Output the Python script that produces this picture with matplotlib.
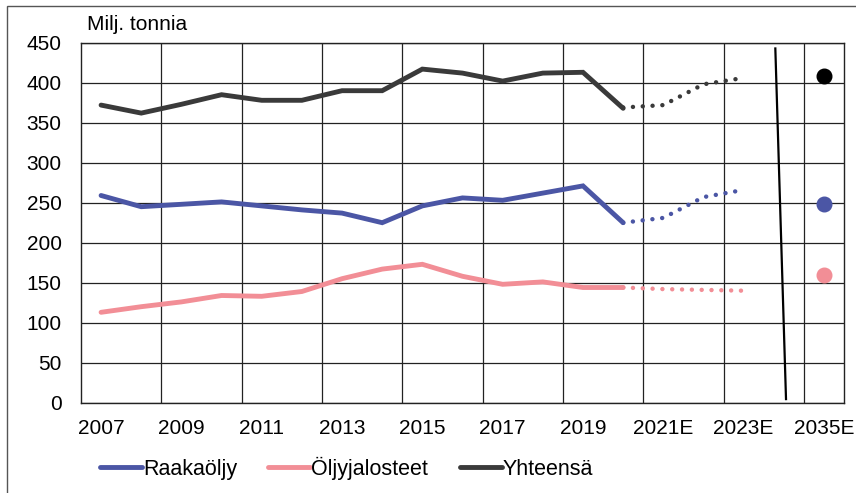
import matplotlib
matplotlib.use("Agg")
import matplotlib.pyplot as plt
from matplotlib.patches import Rectangle
import numpy as np

plt.rcParams["font.family"] = ["Liberation Sans", "DejaVu Sans"]

# categories on the x axis (one slot left empty for the axis break)
categories = [str(y) for y in range(2007, 2021)] + ["2021E", "2022E", "2023E", "", "2035E"]
tick_every = 2

# historical values 2007-2020, million tonnes
raaka_hist = [259, 245, 248, 251, 246, 241, 237, 225, 246, 256, 253, 262, 271, 225]
oljy_hist = [113, 120, 126, 134, 133, 139, 155, 167, 173, 158, 148, 151, 144, 144]
yht_hist = [372, 362, 373, 385, 378, 378, 390, 390, 417, 412, 402, 412, 413, 368]

# forecast 2020-2023E
raaka_fc = [225, 231, 257, 266]
oljy_fc = [144, 142, 141, 140]
yht_fc = [369, 372, 398, 406]

# long-term estimate 2035E
raaka_2035 = 248
oljy_2035 = 160
yht_2035 = 408

c_raaka = "#4b56a5"
c_oljy = "#f28e96"
c_yht = "#3a3a3a"

fig = plt.figure(figsize=(8.56, 4.93), dpi=100)
ax = fig.add_axes([81 / 856, 1 - 402.7 / 493, 763 / 856, 360 / 493])

x_hist = np.arange(len(raaka_hist))
x_fc = np.arange(len(raaka_hist) - 1, len(raaka_hist) - 1 + len(raaka_fc))
x_2035 = categories.index("2035E")

for vals, col, lab in [(raaka_hist, c_raaka, "Raakaöljy"),
                       (oljy_hist, c_oljy, "Öljyjalosteet"),
                       (yht_hist, c_yht, "Yhteensä")]:
    ax.plot(x_hist, vals, color=col, lw=3.5, solid_capstyle="round",
            solid_joinstyle="miter", label=lab, zorder=3)

for vals, col in [(raaka_fc, c_raaka), (oljy_fc, c_oljy), (yht_fc, c_yht)]:
    ax.plot(x_fc, vals, color=col, lw=3.2, linestyle=(0, (0.01, 2.2)),
            dash_capstyle="round", zorder=3)

ax.plot([x_2035], [yht_2035], "o", color="black", ms=10.5, zorder=4)
ax.plot([x_2035], [raaka_2035], "o", color=c_raaka, ms=10.5, zorder=4)
ax.plot([x_2035], [oljy_2035], "o", color=c_oljy, ms=10.5, zorder=4)

# axis break mark
ax.plot([0.910, 0.924], [0.984, 0.010], transform=ax.transAxes, color="black",
        lw=1.6, zorder=5, clip_on=False)

ax.set_xlim(-0.5, len(categories) - 0.5)
ax.set_ylim(0, 450)
ax.set_yticks(np.arange(0, 451, 50))
ax.set_xticks(np.arange(0, len(categories), tick_every))
ax.set_xticklabels(categories[::tick_every])
ax.set_xticks(np.arange(1.5, len(categories) - 1, tick_every), minor=True)
ax.tick_params(axis="both", which="both", length=0, labelsize=15)
ax.tick_params(axis="y", pad=14)
ax.tick_params(axis="x", pad=12)
ax.grid(axis="y", which="major", color="#222222", lw=0.9)
ax.grid(axis="x", which="minor", color="#222222", lw=0.9)
ax.set_axisbelow(True)
for sp in ax.spines.values():
    sp.set_color("#222222")
    sp.set_linewidth(1.0)

fig.text(87 / 856, 1 - 24 / 493, "Milj. tonnia", fontsize=15, va="center", ha="left")

ax.legend(loc="center left", bbox_to_anchor=(100 / 856, 1 - 468 / 493),
          bbox_transform=fig.transFigure, ncol=3, frameon=False, fontsize=15.5,
          handlelength=1.95, handletextpad=0.05, columnspacing=1.45,
          borderpad=0, borderaxespad=0)

# outer chart frame
fig.patches.append(Rectangle((7 / 856, -0.1), 1.2, 1.1 - 6 / 493,
                             transform=fig.transFigure, fill=False,
                             edgecolor="#555555", lw=1.0))

fig.savefig("out.png", dpi=100)
